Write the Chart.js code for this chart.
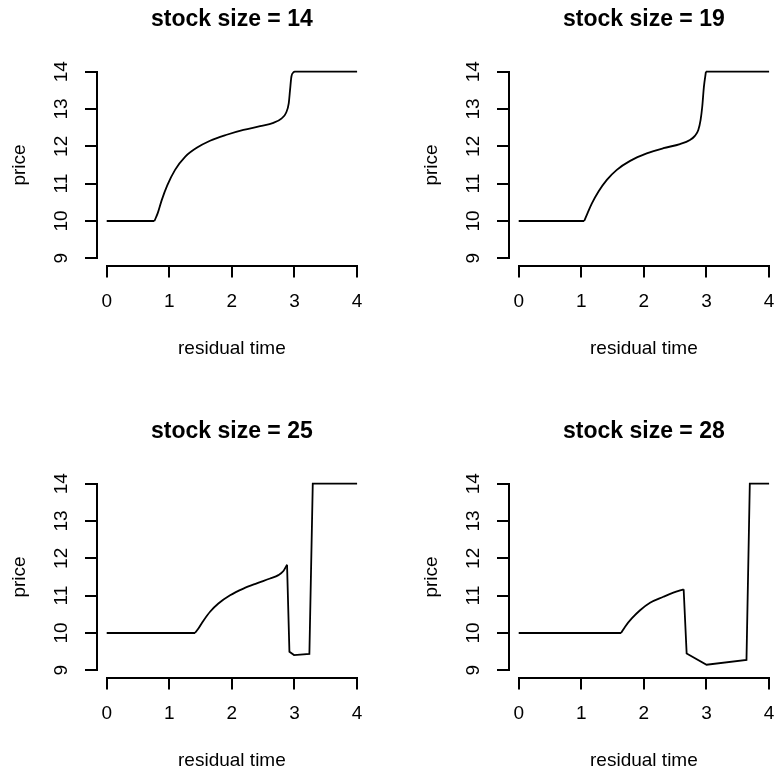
<!DOCTYPE html>
<html><head><meta charset="utf-8">
<script src="https://cdn.jsdelivr.net/npm/chart.js@4.4.1/dist/chart.umd.min.js"></script>
<style>
html,body{margin:0;padding:0;background:#fff;width:779px;height:773px;overflow:hidden;position:relative}
canvas{position:absolute}
</style></head><body>
<canvas id="c0" width="412" height="412" style="left:0px;top:0px"></canvas>
<canvas id="c1" width="412" height="412" style="left:412px;top:0px"></canvas>
<canvas id="c2" width="412" height="412" style="left:0px;top:412px"></canvas>
<canvas id="c3" width="412" height="412" style="left:412px;top:412px"></canvas>
<script>
// ---- data ----
const xTicks = [0, 1, 2, 3, 4];
const yTicks = [9, 10, 11, 12, 13, 14];
const titles = ['stock size = 14', 'stock size = 19', 'stock size = 25', 'stock size = 28'];
const xLabel = 'residual time';
const yLabel = 'price';

const time14  = [0, 0.762, 0.815, 0.879, 0.969, 1.092, 1.252, 1.438, 1.651, 1.917, 2.184, 2.45, 2.663, 2.796, 2.866, 2.908, 2.929, 2.951, 2.983, 3.004, 4];
const price14 = [10, 10, 10.21, 10.56, 10.96, 11.37, 11.72, 11.96, 12.15, 12.31, 12.44, 12.54, 12.63, 12.75, 12.90, 13.15, 13.51, 13.87, 13.98, 14, 14];

const time19  = [0, 1.046, 1.10, 1.169, 1.275, 1.408, 1.567, 1.78, 2.045, 2.311, 2.576, 2.736, 2.815, 2.869, 2.906, 2.932, 2.959, 2.991, 4];
const price19 = [10, 10, 10.21, 10.47, 10.79, 11.10, 11.37, 11.61, 11.81, 11.95, 12.06, 12.17, 12.28, 12.44, 12.71, 13.06, 13.60, 14, 14];

const time25  = [0, 1.411, 1.465, 1.545, 1.651, 1.784, 1.971, 2.184, 2.397, 2.61, 2.743, 2.823, 2.881, 2.919, 2.993, 3.238, 3.292, 4];
const price25 = [10, 10, 10.12, 10.33, 10.57, 10.79, 11.01, 11.19, 11.33, 11.46, 11.55, 11.66, 11.83, 9.50, 9.41, 9.44, 14, 14];

const time28  = [0, 1.636, 1.70, 1.806, 1.939, 2.098, 2.311, 2.47, 2.635, 2.683, 3.001, 3.639, 3.692, 4];
const price28 = [10, 10, 10.17, 10.39, 10.61, 10.81, 10.97, 11.08, 11.17, 9.45, 9.15, 9.28, 14, 14];

// index range of each series that is a smooth curve (the rest are straight segments)
const smoothFrom = [1, 1, 1, 1];
const smoothTo   = [20, 17, 12, 8];

const series = [[time14, price14], [time19, price19], [time25, price25], [time28, price28]];

// ---- styling / layout ----
const FONT = '"Liberation Sans", Arial, Helvetica, sans-serif';
const W = 412, H = 412;
const AREA = {left: 96.7, right: 367.1, top: 64.2, bottom: 265.8};
const X_RANGE = [-0.16, 4.16];
const Y_RANGE = [8.8, 14.2];
const LW = 2;

const axisLinePlugin = {
  id: 'axisLine',
  afterDraw(chart) {
    const {ctx, chartArea, scales} = chart;
    const x = scales.x, y = scales.y;
    ctx.save();
    ctx.strokeStyle = '#000';
    ctx.lineWidth = LW;
    ctx.lineCap = 'butt';
    ctx.beginPath();
    const yb = Math.round(chartArea.bottom);
    ctx.moveTo(Math.round(x.getPixelForValue(xTicks[0])) - 1, yb);
    ctx.lineTo(Math.round(x.getPixelForValue(xTicks[xTicks.length - 1])) + 1, yb);
    const xl = Math.round(chartArea.left);
    ctx.moveTo(xl, Math.round(y.getPixelForValue(yTicks[0])) + 1);
    ctx.lineTo(xl, Math.round(y.getPixelForValue(yTicks[yTicks.length - 1])) - 1);
    ctx.stroke();
    ctx.restore();
  }
};

function lineDs(pts, smooth) {
  return {
    data: pts, showLine: true, borderColor: '#000', borderWidth: 1.8,
    pointRadius: 0, pointHoverRadius: 0, fill: false,
    tension: smooth ? 0.4 : 0,
    cubicInterpolationMode: smooth ? 'monotone' : 'default'
  };
}

function makeChart(id, idx) {
  const [tt, pp] = series[idx];
  const pts = tt.map((t, i) => ({x: t, y: pp[i]}));
  const a = smoothFrom[idx], b = smoothTo[idx];
  const datasets = [];
  if (a > 0) datasets.push(lineDs(pts.slice(0, a + 1), false));
  datasets.push(lineDs(pts.slice(a, b + 1), true));
  if (b < pts.length - 1) datasets.push(lineDs(pts.slice(b), false));
  return new Chart(document.getElementById(id), {
    type: 'scatter',
    data: {datasets},
    options: {
      responsive: false, animation: false, devicePixelRatio: 1,
      events: [],
      layout: {padding: {left: 0, right: W - AREA.right, top: 0, bottom: 0}},
      plugins: {
        legend: {display: false},
        tooltip: {enabled: false},
        title: {
          display: true, text: titles[idx], fullSize: false, color: '#000',
          font: {family: FONT, size: 23, weight: 'bold', lineHeight: 1.2},
          padding: {top: 5.8, bottom: 30.8}
        }
      },
      scales: {
        x: {
          type: 'linear', min: X_RANGE[0], max: X_RANGE[1],
          afterBuildTicks: s => { s.ticks = xTicks.map(v => ({value: v})); },
          afterFit: s => { s.height = H - AREA.bottom; },
          border: {display: false},
          grid: {display: true, drawOnChartArea: false, drawTicks: true, tickLength: 11.7, color: '#000', lineWidth: LW},
          ticks: {color: '#000', font: {family: FONT, size: 19}, padding: 13.2, maxRotation: 0, minRotation: 0,
                  callback: v => String(v)},
          title: {display: true, text: xLabel, color: '#000', font: {family: FONT, size: 19}, padding: {top: 0, bottom: 52.3}}
        },
        y: {
          type: 'linear', min: Y_RANGE[0], max: Y_RANGE[1],
          afterBuildTicks: s => { s.ticks = yTicks.map(v => ({value: v})); },
          afterFit: s => { s.width = AREA.left; },
          border: {display: false},
          grid: {display: true, drawOnChartArea: false, drawTicks: true, tickLength: 11.7, color: '#000', lineWidth: LW},
          ticks: {color: '#000', font: {family: FONT, size: 19}, padding: 12.5, minRotation: 90, maxRotation: 90,
                  crossAlign: 'center', callback: v => String(v)},
          title: {display: true, text: yLabel, color: '#000', font: {family: FONT, size: 19}, padding: {top: 8.5, bottom: 0}}
        }
      }
    },
    plugins: [axisLinePlugin]
  });
}

['c0', 'c1', 'c2', 'c3'].forEach((id, i) => makeChart(id, i));
</script>
</body></html>
